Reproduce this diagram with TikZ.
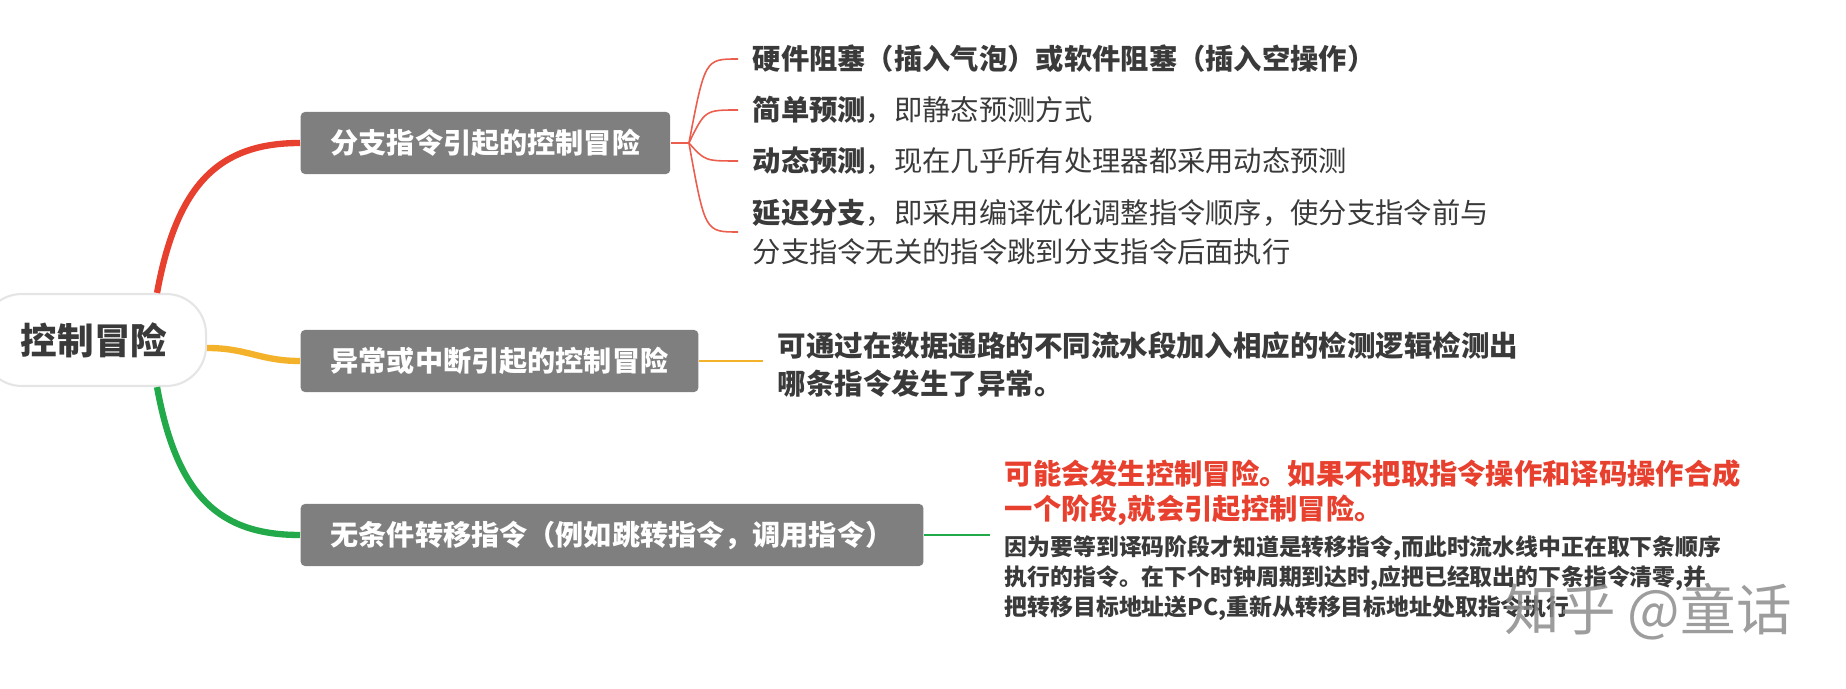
\documentclass[tikz,border=0pt]{standalone}
\usepackage{fontspec}
\setmainfont{Noto Sans CJK SC}
\definecolor{boxgrey}{HTML}{7F7F7F}
\definecolor{inkgrey}{HTML}{3A3A3A}
\definecolor{hazred}{HTML}{E8402E}
\definecolor{hazorange}{HTML}{F3B229}
\definecolor{hazgreen}{HTML}{22AA4A}
\begin{document}
\begin{tikzpicture}[x=0.01cm, y=-0.01cm]
\tikzset{root/.style={rectangle, rounded corners=0.4cm, draw=black!10, line width=0.6pt, fill=white, minimum width=2.24cm, minimum height=0.92cm, text=inkgrey, font=\fontsize{10.4}{12}\selectfont\bfseries}}
\tikzset{branch/.style={rectangle, rounded corners=1.2pt, fill=boxgrey, minimum height=0.62cm, inner xsep=0.3cm, anchor=west, text=white, font=\fontsize{8}{10}\selectfont\bfseries}}
\tikzset{leaf/.style={anchor=west, inner xsep=0.14cm, inner ysep=0pt, align=left, text=inkgrey, font=\fontsize{8.05}{11.1}\selectfont}}
\tikzset{curve/.style={line width=1.8pt}}
\tikzset{thin/.style={line width=0.45pt}}
\useasboundingbox (0,0) rectangle (1846,689);

\node[root] (ctrl) at (94,340) {控制冒险};
\node[branch] (branch) at (300,143) {分支指令引起的控制冒险};
\node[branch] (fault) at (300,361) {异常或中断引起的控制冒险};
\node[branch] (jump) at (300,535) {无条件转移指令（例如跳转指令，调用指令）};

\node[leaf] (stall) at (738,59) {\textbf{硬件阻塞（插入气泡）或软件阻塞（插入空操作）}};
\node[leaf] (static) at (738,110) {\textbf{简单预测}，即静态预测方式};
\node[leaf] (dynamic) at (738,161) {\textbf{动态预测}，现在几乎所有处理器都采用动态预测};
\node[leaf] (delay) at (738,232) {\textbf{延迟分支}，即采用编译优化调整指令顺序，使分支指令前与\\分支指令无关的指令跳到分支指令后面执行};
\node[leaf, font=\fontsize{8.1}{10.8}\selectfont\bfseries] (detect) at (763,365) {可通过在数据通路的不同流水段加入相应的检测逻辑检测出\\哪条指令发生了异常。};
\node[leaf, text width=8cm] (note) at (990,540) {\noindent{\color{hazred}\fontsize{8.05}{10}\selectfont\bfseries 可能会发生控制冒险。如果不把取指令操作和译码操作合成\\一个阶段,就会引起控制冒险。\par}\vspace{1.7pt}\noindent{\fontsize{6.5}{8.5}\selectfont\bfseries 因为要等到译码阶段才知道是转移指令,而此时流水线中正在取下条顺序\\执行的指令。在下个时钟周期到达时,应把已经取出的下条指令清零,并\\把转移目标地址送PC,重新从转移目标地址处取指令执行\par}};
\node[anchor=west, text=black!45, opacity=0.85, font=\fontsize{15.8}{18}\selectfont] (mark) at (1492,612) {知乎 @童话};

\draw[curve, hazred] ([xshift=0.63cm]ctrl.north) .. controls +(20,-110) and +(-80,0) .. (branch.west);
\draw[curve, hazorange] ([yshift=-0.08cm]ctrl.east) .. controls +(40,0) and +(-40,0) .. (fault.west);
\draw[curve, hazgreen] ([xshift=0.63cm]ctrl.south) .. controls +(20,110) and +(-80,0) .. (jump.west);

\coordinate (fan) at ([xshift=0.18cm]branch.east);
\draw[thin, hazred!85] (branch.east) -- (fan);
\foreach \leafname in {stall, static, dynamic, delay}
  \draw[thin, hazred!85] (fan) .. controls ([xshift=-0.33cm]\leafname.west) .. (\leafname.west);
\draw[thin, hazorange] (fault.east) -- (fault.east -| detect.west);
\draw[thin, hazgreen] (jump.east) -- (jump.east -| note.west);
\end{tikzpicture}
\end{document}
